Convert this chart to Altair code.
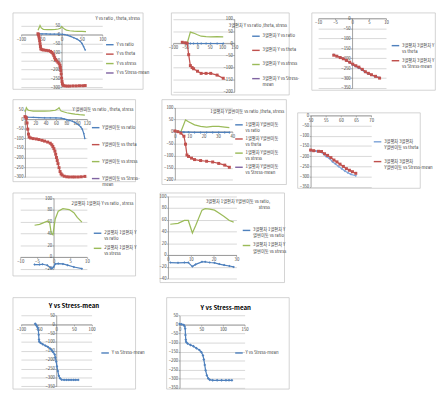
import altair as alt
import pandas as pd

FONT = "Noto Sans CJK KR"
TEXT = "#404040"
AXIS = "#868686"
GRID = "#c4c4c4"
BORDER = "#c6c6c6"
BLUE = "#4F81BD"
RED = "#C0504D"
GREEN = "#9BBB59"
PURPLE = "#8064A2"
LBLUE = "#7DA3D8"

# ---------------- Panel 1 ----------------
P1_TITLE = "Y vs ratio , theta, stress"
P1_NAMES = ["Y vs ratio", "Y vs theta", "Y vs stress", "Y vs Stress-mean"]
P1_XTICKS = [-100, -50, 0, 50, 100]
P1_YTICKS = [-300, -250, -200, -150, -100, -50, 0, 50]
P1_RATIO = [(-58, 5), (-48, 4), (-38, 4), (-28, 3), (-18, 3), (-8, 3), (2, 2), (8, 0), (15, -4),
            (22, -10), (30, -18), (38, -26), (45, -36), (50, -50), (54, -68), (58, -88)]
P1_THETA = [(-58, 5), (-57, 0), (-56, -8), (-55, -20), (-54, -35), (-53, -52), (-52, -68), (-51, -82),
            (-48, -86), (-44, -88), (-38, -90), (-32, -92), (-27, -96), (-24, -102), (-21, -110),
            (-19, -120), (-17, -132), (-15, -142), (-12, -150), (-9, -158), (-6, -166), (-4, -176),
            (-3, -188), (-2, -205), (-1, -225), (0, -248), (1, -268), (2, -282), (4, -290), (8, -293),
            (14, -294), (20, -294), (28, -293), (36, -293), (44, -292), (52, -292), (58, -291)]
P1_STRESS = [(-58, 25), (-55, 40), (-53, 52), (-50, 38), (-45, 30), (-35, 28), (-25, 28), (-15, 30),
             (-8, 32), (-3, 36), (0, 46), (3, 40), (7, 32), (12, 26), (20, 22), (30, 20), (40, 19),
             (50, 18), (60, 17)]

# ---------------- Panel 2 ----------------
P2_TITLE = "3열편차 Y vs ratio ,theta, stress"
P2_NAMES = ["3열편차 Y vs ratio", "3열편차 Y vs theta", "3열편차 Y vs stress", "3열편차 Y vs Stress-|mean"]
P2_XTICKS = [-100, -50, 0, 50, 100, 150]
P2_YTICKS = [-200, -150, -100, -50, 0, 50, 100]
P2_RATIO = [(-62, 2), (-50, 0), (-42, -1), (-29, -1), (-16, -1), (0, -1), (15, -1), (35, -1),
            (54, -1), (80, -1), (105, -1)]
P2_THETA = [(-62, 4), (-50, 2), (-42, 0), (-36, -47), (-29, -92), (-22, -100), (-16, -105), (0, -115),
            (15, -124), (35, -124), (54, -124), (80, -131), (105, -144)]
P2_STRESS = [(-62, 4), (-50, 2), (-42, 0), (-29, 46), (-16, 42), (0, 35), (15, 29), (35, 27),
             (54, 26), (80, 27), (105, 26)]

# ---------------- Panel 3 ----------------
P3_NAMES = ["3열평차 3열편차 Y|vs theta", "3열평차 3열편차 Y|vs Stress-mean"]
P3_XTICKS = [-10, -5, 0, 5, 10]
P3_YTICKS = [-350, -300, -250, -200, -150, -100, -50, 0]
P3_THETA = [(-5.4, -183), (-4.5, -189), (-3.5, -195), (-2.6, -202), (-1.7, -212), (-0.7, -222),
            (0.2, -233), (1.1, -241), (2.0, -249), (3.0, -259), (3.9, -270), (4.8, -278),
            (5.7, -285), (6.9, -292), (8.1, -298)]
P3_SMEAN = [(-5.4, -185), (-4.5, -190), (-3.5, -197), (-2.6, -203), (-1.7, -211), (-0.7, -220),
            (0.2, -230), (1.1, -238), (2.0, -245), (3.0, -256), (3.9, -268), (4.8, -276),
            (5.7, -283), (6.9, -291), (8.1, -300)]

# ---------------- Panel 4 ----------------
P4_TITLE = "Y 열변이동 vs ratio , theta, stress"
P4_NAMES = ["Y열변이동 vs ratio", "Y열변이동 vs theta", "Y열변이동 vs stress", "Y열변이동 vs Stress-|mean"]
P4_XTICKS = [0, 20, 40, 60, 80, 100, 120]
P4_YTICKS = [-300, -250, -200, -150, -100, -50, 0, 50]
P4_RATIO = [(0, 13), (5.4, 10), (16, 9), (27, 8), (38, 7), (49, 6.5), (60, 6), (70, 5), (76, 1),
            (81, -3), (86, -7), (92, -11), (97, -18), (103, -28), (108, -40), (111, -52),
            (114, -75), (116, -101)]
P4_THETA = [(0, 13), (1.5, 10), (2.7, 5), (4, -20), (5.4, -52), (6.8, -78), (8.1, -93), (11, -98),
            (16, -101), (22, -103), (27, -106), (33, -110), (38, -114), (44, -119), (49, -125),
            (52, -133), (54, -142), (56, -153), (58, -166), (59.5, -182), (61, -199), (62.5, -215),
            (64, -231), (66, -252), (68, -272), (70, -284), (72, -290), (76, -296), (81, -299),
            (86, -300), (92, -300), (97, -300), (103, -300), (109, -299), (116, -297)]
P4_STRESS = [(0, 37), (1.5, 48), (2.7, 59), (4.5, 52), (6.5, 46), (16, 42), (27, 42), (38, 42),
             (49, 43), (59, 46), (63, 52), (66, 59), (68, 50), (70, 42), (76, 37), (81, 33),
             (90, 29), (97, 26), (106, 23), (116, 21)]

# ---------------- Panel 5 ----------------
P5_TITLE = "1열평차 Y열변이동 vs ratio ,theta, stress"
P5_NAMES = ["1열평차 Y열변이동|vs ratio", "1열평차 Y열변이동|vs theta", "1열평차 Y열변이동|vs stress",
            "1열평차 Y열변이동|vs Stress-mean"]
P5_XTICKS = [0, 10, 20, 30, 40]
P5_YTICKS = [-200, -150, -100, -50, 0, 50, 100]
P5_RATIO = [(0, 2), (2.1, 0), (4.2, -1), (6.3, -2), (9.5, -2), (13.7, -3), (17.9, -3), (22.1, -3),
            (26.3, -3), (30.5, -3), (34.7, -3), (37.9, -3)]
P5_THETA = [(0, 3), (2.1, 0), (4.2, -6), (6.3, -19), (7.4, -52), (8.4, -97), (9.5, -103),
            (11.6, -110), (13.7, -116), (17.9, -120), (22.1, -123), (26.3, -126), (30.5, -132),
            (34.7, -139), (37.9, -148)]
P5_STRESS = [(0, 3), (2.1, 0), (4.2, 0), (6.3, 32), (7.4, 49), (9.5, 41), (13.7, 28), (17.9, 22),
             (22.1, 19), (26.3, 22), (30.5, 22), (34.7, 19), (37.9, 17)]

# ---------------- Panel 6 ----------------
P6_NAMES = ["3열평차 3열편차|Y열변이동 vs theta", "3열평차 3열편차|Y열변이동 vs Stress-mean"]
P6_XTICKS = [50, 55, 60, 65, 70]
P6_YTICKS = [-350, -300, -250, -200, -150, -100, -50, 0]
P6_THETA = [(50, -173), (51, -174), (52, -176), (53.6, -181), (55.1, -201), (56.2, -211),
            (57.2, -227), (58.2, -238), (59.2, -250), (60.3, -262), (61.3, -273), (62.3, -281),
            (63.3, -289), (64.9, -296)]
P6_SMEAN = [(50, -170), (51, -173), (52.6, -176), (53.6, -177), (54.6, -188), (55.6, -196),
            (56.7, -207), (57.7, -219), (58.7, -228), (59.7, -239), (60.8, -250), (61.8, -261),
            (62.8, -269), (63.8, -276), (64.9, -284)]

# ---------------- Panel 7 ----------------
P7_TITLE = "2열평차 1열편차 Y vs ratio , stress"
P7_NAMES = ["2열평차 1열편차 Y|vs ratio", "2열평차 1열편차 Y|vs stress"]
P7_XTICKS = [-10, -5, 0, 5, 10]
P7_YTICKS = [-20, 0, 20, 40, 60, 80, 100]
P7_RATIO = [(-5.7, -12.8), (-4.2, -12.8), (-3.3, -12.3), (-1.9, -13.9), (-0.9, -18.1), (-0.5, -19.5),
            (0, -17), (0.5, -11.7), (1.4, -11.2), (2.8, -11.7), (4.2, -13.9), (6.1, -17),
            (8.5, -19.8)]
P7_STRESS = [(-5.7, 53.9), (-4.2, 55.5), (-3.3, 57.6), (-1.9, 60.8), (-1.2, 59), (-0.7, 40.5),
             (-0.2, 37.9), (0.5, 64.5), (1.4, 77.9), (2.8, 82.1), (4.7, 80.5), (6.1, 75.2),
             (7.1, 67.2), (8.5, 59.2)]

# ---------------- Panel 8 ----------------
P8_TITLE = "3열평차 1열편차 Y열변이동 vs ratio,\nstress"
P8_NAMES = ["3열평차 1열편차 Y|열변이동 vs ratio", "3열평차 1열편차 Y|열변이동 vs stress"]
P8_XTICKS = [0, 10, 20, 30]
P8_YTICKS = [-40, -20, 0, 20, 40, 60, 80, 100]
P8_RATIO = [(1.0, -12.8), (4.4, -13.3), (7.2, -12.8), (8.9, -12.8), (10.7, -19.7), (12.1, -16),
            (14.9, -11.7), (16.3, -11.7), (18.3, -12.8), (20.4, -13.3), (22.5, -15.5), (24.6, -17.1),
            (26.9, -18.7), (28.8, -20.3)]
P8_STRESS = [(1.0, 52.3), (4.4, 53.9), (7.2, 58.7), (8.9, 58.7), (10.7, 37.3), (12.1, 49.6),
             (14.9, 76.3), (16.3, 78.9), (18.3, 77.9), (20.4, 76.3), (22.5, 70.9), (24.6, 65.6),
             (26.9, 58.7), (28.8, 56)]

# ---------------- Panel 9 ----------------
P9_TITLE = "Y vs Stress-mean"
P9_NAMES = ["Y vs Stress-mean"]
P9_XTICKS = [-100, -50, 0, 50, 100]
P9_YTICKS = [-350, -300, -250, -200, -150, -100, -50, 0, 50]
P9_SMEAN = [(-59.6, 3.6), (-57.8, -1.8), (-55, -9), (-52.4, -19.6), (-50.7, -32), (-49.8, -59),
            (-48.9, -86), (-48, -98), (-44.4, -105), (-38.2, -112.5), (-31.1, -120), (-24, -127),
            (-17.8, -136), (-13.3, -145), (-8.9, -157), (-4.4, -170), (-2.7, -187.5), (0, -211),
            (1.8, -237.5), (4.4, -264), (7.1, -291), (10.7, -305), (15.1, -312.5), (22.2, -314),
            (29, -314), (35.6, -314), (42, -314), (48.9, -314), (55, -314), (62.2, -314)]

# ---------------- Panel 10 ----------------
P10_TITLE = "Y vs Stress-mean"
P10_NAMES = ["Y vs Stress-mean"]
P10_XTICKS = [0, 50, 100, 150]
P10_YTICKS = [-350, -300, -250, -200, -150, -100, -50, 0, 50]
P10_SMEAN = [(0, 3.5), (4.8, 1.7), (9.5, -1.7), (11.6, -8.7), (13, -22.6), (13.6, -57.5),
             (14.3, -83.6), (15, -95.8), (18.4, -104.5), (25.2, -113), (32, -120), (38.9, -130.7),
             (45.7, -141), (50.5, -153), (53.9, -170.7), (55.9, -193), (58, -223), (60, -252.6),
             (62.8, -280.5), (66.2, -298), (69.6, -305), (76.4, -308), (86.6, -308), (96.9, -308),
             (107, -308), (114, -308), (120.7, -308)]


def panel(W, H, names, series, colors, shapes, sizes, xd, xr, yd, yr, xticks, yticks,
          vx, hy, legend_xy, row_pad, title=None, title_pos=None, big=False, yorient="left"):
    rows = []
    for name, pts in zip(names, series):
        for i, (a, b) in enumerate(pts):
            rows.append({"s": name, "x": a, "y": b, "o": i})
    df = pd.DataFrame(rows)

    xpix = xr[0] + (vx - xd[0]) / (xd[1] - xd[0]) * (xr[1] - xr[0])
    ypix = yr[0] + (hy - yd[0]) / (yd[1] - yd[0]) * (yr[1] - yr[0])
    xoff = ypix - H
    yoff = -xpix if yorient == "left" else xpix - W

    common = dict(title=None, labelFontSize=4.5, labelFont=FONT, labelColor=TEXT,
                  domainColor=AXIS, domainWidth=0.8, tickColor=AXIS, tickSize=1.5,
                  tickWidth=0.7, labelPadding=0.5, labelFlush=False, labelOverlap=False)
    X = alt.X("x:Q", scale=alt.Scale(domain=xd, range=xr, nice=False, zero=False),
              axis=alt.Axis(orient="bottom", offset=xoff, values=xticks, grid=False, **common))
    Y = alt.Y("y:Q", scale=alt.Scale(domain=yd, range=yr, nice=False, zero=False),
              axis=alt.Axis(orient=yorient, offset=yoff, values=yticks, grid=True,
                            gridColor=GRID, gridWidth=0.7, **common))
    legend = alt.Legend(orient="none", legendX=legend_xy[0], legendY=legend_xy[1], title=None,
                        symbolType="stroke", symbolSize=64, symbolStrokeWidth=1.5,
                        labelFontSize=4.5, labelFont=FONT, labelColor=TEXT, labelOffset=2,
                        rowPadding=row_pad, labelLimit=60, padding=0,
                        labelExpr="split(datum.label, '|')")
    base = alt.Chart(df)
    layers = [base.mark_line(strokeWidth=1.3).encode(
        x=X, y=Y,
        color=alt.Color("s:N", scale=alt.Scale(domain=names, range=colors), legend=legend),
        order="o:Q")]
    for name, col, shp, sz in zip(names, colors, shapes, sizes):
        if sz > 0:
            layers.append(base.transform_filter(alt.datum.s == name).mark_point(
                filled=True, opacity=1, strokeWidth=0, shape=shp, size=sz, color=col
            ).encode(x=X, y=Y))
    if title is not None:
        tdf = pd.DataFrame({"t": [title]})
        if big:
            tm = alt.Chart(tdf).mark_text(align="center", baseline="middle", fontSize=6.5,
                                          fontWeight="bold", color="#000000", font=FONT)
        else:
            tm = alt.Chart(tdf).mark_text(align="right", baseline="top", fontSize=4.5,
                                          color=TEXT, font=FONT, lineBreak="\n", lineHeight=7)
        layers.append(tm.encode(text="t:N", x=alt.value(title_pos[0]), y=alt.value(title_pos[1])))
    ch = alt.layer(*layers)
    return ch.properties(width=W, height=H)


C4 = [BLUE, RED, GREEN, PURPLE]
S4 = ["diamond", "square", "triangle-up", "cross"]
Z4 = [7, 10, 0, 0]

p1 = panel(138, 81, P1_NAMES, [P1_RATIO, P1_THETA, P1_STRESS], C4, S4, [4, 10, 0, 0],
           [-100, 100], [8.7, 95], [-300, 50], [79, 14], P1_XTICKS, P1_YTICKS, 0, 0,
           (98, 29), 2, P1_TITLE, (135, 4))
p2 = panel(125, 87, P2_NAMES, [P2_RATIO, P2_THETA, P2_STRESS], C4, S4, Z4,
           [-100, 150], [2, 67], [-200, 100], [84, 6.7], P2_XTICKS, P2_YTICKS, 150, 0,
           (85, 20), 7, P2_TITLE, (123, 11))
p3 = panel(131, 82, P3_NAMES, [P3_THETA, P3_SMEAN], [BLUE, RED], ["diamond", "square"], [7, 10],
           [-10, 10], [7, 79], [-350, 0], [80, 6], P3_XTICKS, P3_YTICKS, 0, 0,
           (84, 30), 3)
p4 = panel(130, 87, P4_NAMES, [P4_RATIO, P4_THETA, P4_STRESS], C4, S4, [4, 10, 0, 0],
           [0, 120], [13, 78.7], [-300, 50], [82.3, 10.7], P4_XTICKS, P4_YTICKS, 0, 0,
           (83, 25), 10, P4_TITLE, (128, 8))
p5 = panel(132, 90, P5_NAMES, [P5_RATIO, P5_THETA, P5_STRESS], C4, S4, Z4,
           [0, 40], [14, 75], [-200, 100], [85.3, 8.7], P5_XTICKS, P5_YTICKS, 0, 0,
           (77, 22), 2, P5_TITLE, (130, 10))
p6 = panel(130, 80, P6_NAMES, [P6_THETA, P6_SMEAN], [LBLUE, RED], ["diamond", "square"], [7, 10],
           [50, 70], [14, 78.3], [-350, 0], [78.7, 3], P6_XTICKS, P6_YTICKS, 50, 0,
           (80, 26), 8)
p7 = panel(130, 88, P7_NAMES, [P7_RATIO, P7_STRESS], [BLUE, GREEN], ["diamond", "triangle-up"], [7, 0],
           [-10, 10], [8, 78.7], [-20, 100], [80.7, 5.7], P7_XTICKS, P7_YTICKS, 0, 0,
           (85, 38), 3, P7_TITLE, (128, 9))
p8 = panel(132, 95, P8_NAMES, [P8_RATIO, P8_STRESS], [BLUE, GREEN], ["diamond", "triangle-up"], [7, 0],
           [0, 30], [8.7, 81.3], [-40, 100], [91, 3.7], P8_XTICKS, P8_YTICKS, 0, 0,
           (87, 35), 3, P8_TITLE, (117, 6.5))
p9 = panel(130, 97, P9_NAMES, [P9_SMEAN], [BLUE], ["diamond"], [9],
           [-100, 100], [8.7, 83.7], [-350, 50], [94.3, 19.3], P9_XTICKS, P9_YTICKS, 0, 0,
           (93, 54), 2, P9_TITLE, (65, 9), big=True)
p10 = panel(130, 97, P10_NAMES, [P10_SMEAN], [BLUE], ["diamond"], [9],
            [0, 150], [14, 83], [-350, 50], [96, 19.3], P10_XTICKS, P10_YTICKS, 0, 0,
            (72, 54), 2, P10_TITLE, (63, 11), big=True)

spacer = alt.Chart(pd.DataFrame({"v": [0]})).mark_point(opacity=0).encode(
    x=alt.X("v:Q", axis=None), y=alt.Y("v:Q", axis=None)
).properties(width=130, height=1, view=alt.ViewBackground(stroke="transparent", fill="transparent"))


def res(c):
    return c.resolve_scale(color="independent", x="independent", y="independent")


row1 = res(alt.hconcat(p1, res(alt.hconcat(p2, p3, spacing=10)), spacing=18))
row2 = res(alt.hconcat(p4, res(alt.hconcat(p5, res(alt.vconcat(spacer, p6, spacing=9)),
                                           spacing=10)), spacing=21))
row3 = res(alt.hconcat(p7, p8, spacing=21))
row4 = res(alt.hconcat(p9, p10, spacing=21))
top12 = res(alt.vconcat(row1, row2, spacing=1))
top = res(alt.vconcat(top12, row3, spacing=3))
chart = res(alt.vconcat(top, row4, spacing=14)).properties(
    padding={"left": 4, "top": -8, "right": 0, "bottom": 0}
).configure(background="white", font=FONT).configure_view(
    stroke=BORDER, strokeWidth=0.8, fill="white")

chart.save("out.html", embed_options={"renderer": "svg", "actions": False})
